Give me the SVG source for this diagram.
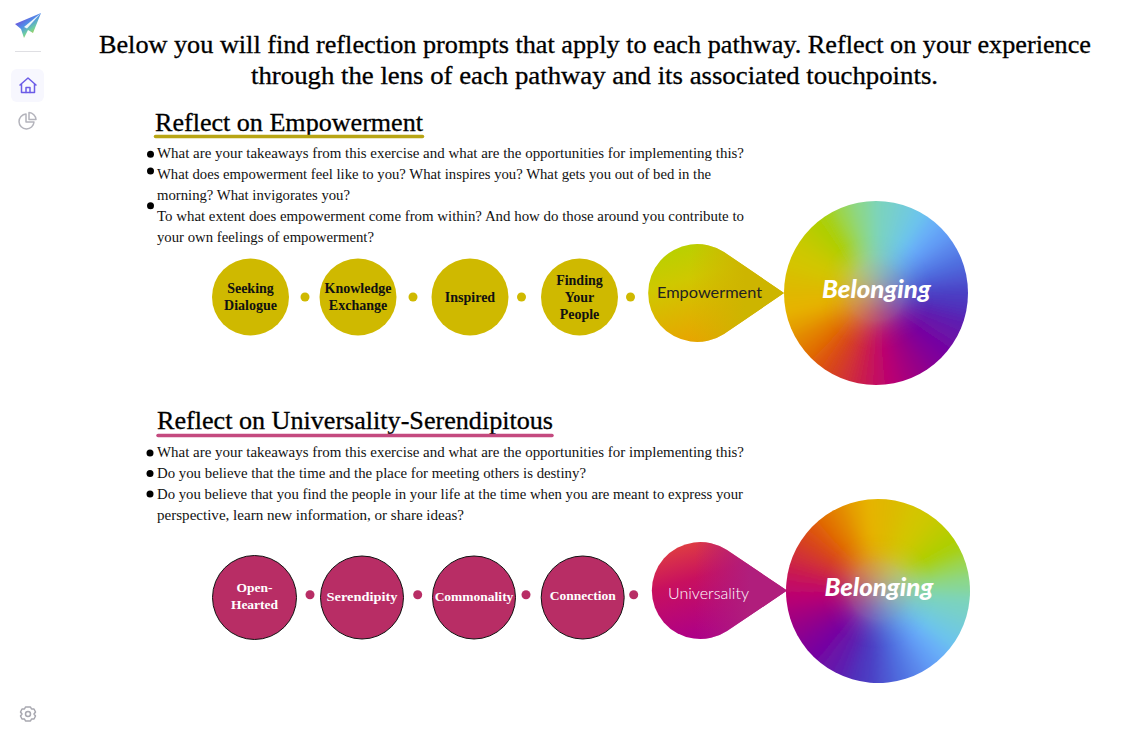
<svg xmlns="http://www.w3.org/2000/svg" width="1125" height="732" viewBox="0 0 1125 732">
<style>
text{font-family:"Liberation Serif","Times New Roman",serif;fill:#000}
.title{font-size:25px;stroke:#000;stroke-width:.3px}
.head{font-size:25px;stroke:#000;stroke-width:.3px}
.body{font-size:14px;fill:#111}
.nodeY{fill:#cfb900}
.nodeM{fill:#b82d65;stroke:#111;stroke-width:1}
.lblY{font-size:14px;font-weight:bold;text-anchor:middle;fill:#111}
.lblM{font-size:13.500px;font-weight:bold;text-anchor:middle;fill:#fff}
.dotY{fill:#cfb900}.dotM{fill:#b82d65}
.bel{font-family:"Lato","Liberation Sans",sans-serif;font-size:25px;font-weight:900;font-style:italic;fill:#fff}
.path{font-family:"Lato","Liberation Sans",sans-serif;font-size:16px}
.ico{fill:none;stroke-width:1.5;stroke-linejoin:round;stroke-linecap:round}
</style>
<defs>
<path id="w" d="M0 0L-13 -130L13 -130Z"/>
<clipPath id="cc"><circle r="92"/></clipPath>
<filter id="b" filterUnits="userSpaceOnUse" x="-140" y="-140" width="280" height="280"><feGaussianBlur stdDeviation="6"/></filter>
<filter id="b2" filterUnits="userSpaceOnUse" x="-140" y="-140" width="280" height="280"><feGaussianBlur stdDeviation="20"/></filter>
<radialGradient id="fade"><stop offset="0" stop-color="#fff"/><stop offset=".3" stop-color="#fff"/><stop offset=".62" stop-color="#000"/></radialGradient>
<mask id="m" maskUnits="userSpaceOnUse" x="-92" y="-92" width="184" height="184"><circle r="92" fill="url(#fade)"/></mask>
<g id="wedges">
<use href="#w" fill="#7dd4b8"/>
<use href="#w" transform="rotate(10)" fill="#78d0c8"/>
<use href="#w" transform="rotate(20)" fill="#72cbda"/>
<use href="#w" transform="rotate(30)" fill="#6cc4ec"/>
<use href="#w" transform="rotate(40)" fill="#69b0f8"/>
<use href="#w" transform="rotate(50)" fill="#629df6"/>
<use href="#w" transform="rotate(60)" fill="#5a86eb"/>
<use href="#w" transform="rotate(70)" fill="#5070e0"/>
<use href="#w" transform="rotate(80)" fill="#4e59d3"/>
<use href="#w" transform="rotate(90)" fill="#4b41c5"/>
<use href="#w" transform="rotate(100)" fill="#4f32bc"/>
<use href="#w" transform="rotate(110)" fill="#5d1fb0"/>
<use href="#w" transform="rotate(120)" fill="#6b12a8"/>
<use href="#w" transform="rotate(130)" fill="#7503a2"/>
<use href="#w" transform="rotate(140)" fill="#820098"/>
<use href="#w" transform="rotate(150)" fill="#93008a"/>
<use href="#w" transform="rotate(160)" fill="#a4007f"/>
<use href="#w" transform="rotate(170)" fill="#b80073"/>
<use href="#w" transform="rotate(180)" fill="#c30a63"/>
<use href="#w" transform="rotate(190)" fill="#ca1d4c"/>
<use href="#w" transform="rotate(200)" fill="#d13035"/>
<use href="#w" transform="rotate(210)" fill="#d7431e"/>
<use href="#w" transform="rotate(220)" fill="#de5707"/>
<use href="#w" transform="rotate(230)" fill="#e17100"/>
<use href="#w" transform="rotate(240)" fill="#e38700"/>
<use href="#w" transform="rotate(250)" fill="#e5a100"/>
<use href="#w" transform="rotate(260)" fill="#e6b400"/>
<use href="#w" transform="rotate(270)" fill="#e0b700"/>
<use href="#w" transform="rotate(280)" fill="#dabd00"/>
<use href="#w" transform="rotate(290)" fill="#d4c500"/>
<use href="#w" transform="rotate(300)" fill="#cdc800"/>
<use href="#w" transform="rotate(310)" fill="#c0cb00"/>
<use href="#w" transform="rotate(320)" fill="#b1ce00"/>
<use href="#w" transform="rotate(330)" fill="#a5d114"/>
<use href="#w" transform="rotate(340)" fill="#97d658"/>
<use href="#w" transform="rotate(350)" fill="#8ad78e"/>
</g>
<g id="wheel">
<g clip-path="url(#cc)">
<use href="#wedges" filter="url(#b)"/>
<g mask="url(#m)"><use href="#wedges" filter="url(#b2)"/></g>
</g>
</g>
<linearGradient id="dropY1" gradientUnits="userSpaceOnUse" x1="668" y1="250" x2="695" y2="342"><stop offset="0" stop-color="#b9d000"/><stop offset=".35" stop-color="#cfc800"/><stop offset="1" stop-color="#e8a400"/></linearGradient>
<linearGradient id="dropY2" gradientUnits="userSpaceOnUse" x1="690" y1="0" x2="745" y2="0"><stop offset="0" stop-color="#cdb500" stop-opacity="0"/><stop offset="1" stop-color="#cdb500"/></linearGradient>
<linearGradient id="dropM1" gradientUnits="userSpaceOnUse" x1="668" y1="546" x2="695" y2="639"><stop offset="0" stop-color="#e04040"/><stop offset=".4" stop-color="#c8105f"/><stop offset="1" stop-color="#ad0088"/></linearGradient>
<linearGradient id="dropM2" gradientUnits="userSpaceOnUse" x1="695" y1="0" x2="750" y2="0"><stop offset="0" stop-color="#b01e7c" stop-opacity="0"/><stop offset="1" stop-color="#b01e7c"/></linearGradient>
<linearGradient id="plane" gradientUnits="userSpaceOnUse" x1="18" y1="18" x2="32" y2="38"><stop offset="0" stop-color="#7a3fd8"/><stop offset=".4" stop-color="#4f8fe8"/><stop offset=".7" stop-color="#6fd0a0"/><stop offset="1" stop-color="#c8c820"/></linearGradient>
</defs>
<rect width="1125" height="732" fill="#fff"/>

<g id="sidebar">
<g id="logo">
<path d="M15 24L41 13L33 33L28 30L24 38L21 29Z" fill="url(#plane)"/>
<path d="M41 13L24 27L27 28.500Z" fill="#eef6fa"/>
</g>
<line x1="15" y1="51.500" x2="41" y2="51.500" stroke="#dfdfe3"/>
<rect x="11" y="69" width="33" height="33" rx="6" fill="#f7f7fe"/>
<g id="home" class="ico" stroke="#6c5ce7">
<path d="M20 85L28 78L36 85M21.500 84V92.500H34.500V84"/>
<path d="M26 92.500V87.500H30V92.500"/>
</g>
<g id="chart" class="ico" stroke="#b4b4bc">
<path d="M26 114A7.500 7.500 0 1 0 34 122H26Z"/>
<path d="M29 112.500A7.500 7.500 0 0 1 36 119.500H29Z"/>
</g>
<g id="gear" class="ico" stroke="#a8a8b0">
<circle cx="28" cy="714" r="2.500"/>
<path d="M25.500 707H30.500L31.500 709L34 709L35.500 712L34 714L35.500 716L34 719L31.500 719L30.500 721H25.500L24.500 719L22 719L20.500 716L22 714L20.500 712L22 709L24.500 709Z"/>
</g>
</g>

<g id="intro">
<text class="title" x="99" y="53" textLength="992" lengthAdjust="spacingAndGlyphs">Below you will find reflection prompts that apply to each pathway. Reflect on your experience</text>
<text class="title" x="251" y="84" textLength="687" lengthAdjust="spacingAndGlyphs">through the lens of each pathway and its associated touchpoints.</text>
</g>

<g id="empowerment-text">
<text class="head" x="155" y="131" textLength="268" lengthAdjust="spacingAndGlyphs">Reflect on Empowerment</text>
<line x1="155.500" y1="136.500" x2="422.500" y2="136.500" stroke="#b8a514" stroke-width="3.500" stroke-linecap="round"/>
<circle cx="150.500" cy="154.300" r="3.500"/><circle cx="150.500" cy="171" r="3.500"/><circle cx="150.500" cy="205.700" r="3.500"/>
<text class="body" x="157" y="158" textLength="587" lengthAdjust="spacingAndGlyphs">What are your takeaways from this exercise and what are the opportunities for implementing this?</text>
<text class="body" x="157" y="179" textLength="554" lengthAdjust="spacingAndGlyphs">What does empowerment feel like to you? What inspires you? What gets you out of bed in the</text>
<text class="body" x="157" y="200" textLength="193" lengthAdjust="spacingAndGlyphs">morning? What invigorates you?</text>
<text class="body" x="157" y="221" textLength="587" lengthAdjust="spacingAndGlyphs">To what extent does empowerment come from within? And how do those around you contribute to</text>
<text class="body" x="157" y="242" textLength="217" lengthAdjust="spacingAndGlyphs">your own feelings of empowerment?</text>
</g>

<g id="connectors">
<circle class="dotY" cx="305" cy="297" r="4.500"/><circle class="dotY" cx="413" cy="297" r="4.500"/><circle class="dotY" cx="521.500" cy="297" r="4.500"/><circle class="dotY" cx="630.500" cy="297" r="4.500"/>
<circle class="dotM" cx="310" cy="594.700" r="4.500"/><circle class="dotM" cx="417.700" cy="594.700" r="4.500"/><circle class="dotM" cx="526" cy="594.700" r="4.500"/><circle class="dotM" cx="633.700" cy="594.700" r="4.500"/>
</g>

<g id="seeking-dialogue"><circle class="nodeY" cx="250.500" cy="297" r="38.500"/><text class="lblY" x="250.500" y="293">Seeking</text><text class="lblY" x="250.500" y="310">Dialogue</text></g>
<g id="knowledge-exchange"><circle class="nodeY" cx="358" cy="297" r="38.500"/><text class="lblY" x="358" y="293">Knowledge</text><text class="lblY" x="358" y="310">Exchange</text></g>
<g id="inspired"><circle class="nodeY" cx="470" cy="297" r="38.500"/><text class="lblY" x="470" y="302">Inspired</text></g>
<g id="finding-your-people"><circle class="nodeY" cx="579.500" cy="297" r="38.500"/><text class="lblY" x="579.500" y="285">Finding</text><text class="lblY" x="579.500" y="302">Your</text><text class="lblY" x="579.500" y="319">People</text></g>

<g id="empowerment">
<path d="M784 293L724 334A49 49 0 1 1 724 252Z" fill="url(#dropY1)"/>
<path d="M784 293L724 334A49 49 0 1 1 724 252Z" fill="url(#dropY2)"/>
<text class="path" x="657" y="298" textLength="105" lengthAdjust="spacingAndGlyphs" style="fill:#222">Empowerment</text>
</g>
<g id="belonging-1">
<use href="#wheel" transform="translate(876 293)"/>
<text class="bel" x="822" y="298" textLength="109" lengthAdjust="spacingAndGlyphs">Belonging</text>
</g>

<g id="universality-text">
<text class="head" x="157" y="429" textLength="396" lengthAdjust="spacingAndGlyphs">Reflect on Universality-Serendipitous</text>
<line x1="158" y1="435.500" x2="552" y2="435.500" stroke="#c44a7f" stroke-width="3.500" stroke-linecap="round"/>
<circle cx="150" cy="453" r="3.500"/><circle cx="150" cy="473.500" r="3.500"/><circle cx="150" cy="494" r="3.500"/>
<text class="body" x="157" y="456.500" textLength="587" lengthAdjust="spacingAndGlyphs">What are your takeaways from this exercise and what are the opportunities for implementing this?</text>
<text class="body" x="157" y="477.500" textLength="429" lengthAdjust="spacingAndGlyphs">Do you believe that the time and the place for meeting others is destiny?</text>
<text class="body" x="157" y="498.500" textLength="586" lengthAdjust="spacingAndGlyphs">Do you believe that you find the people in your life at the time when you are meant to express your</text>
<text class="body" x="157" y="519.500" textLength="307" lengthAdjust="spacingAndGlyphs">perspective, learn new information, or share ideas?</text>
</g>

<g id="open-hearted"><circle class="nodeM" cx="254.500" cy="597.500" r="42"/><text class="lblM" x="254.500" y="592">Open-</text><text class="lblM" x="254.500" y="609">Hearted</text></g>
<g id="serendipity"><circle class="nodeM" cx="362" cy="597.500" r="41.500"/><text class="lblM" x="362" y="601" textLength="71" lengthAdjust="spacingAndGlyphs">Serendipity</text></g>
<g id="commonality"><circle class="nodeM" cx="474" cy="597.500" r="41.500"/><text class="lblM" x="474" y="601">Commonality</text></g>
<g id="connection"><circle class="nodeM" cx="582.700" cy="597.500" r="41.500"/><text class="lblM" x="582.700" y="600">Connection</text></g>

<g id="universality">
<path d="M787 590.500L727 631A48.500 48.500 0 1 1 727 550Z" fill="url(#dropM1)"/>
<path d="M787 590.500L727 631A48.500 48.500 0 1 1 727 550Z" fill="url(#dropM2)"/>
<text class="path" x="668" y="599" textLength="81" lengthAdjust="spacingAndGlyphs" style="fill:#fff;font-weight:300">Universality</text>
</g>
<g id="belonging-2">
<use href="#wheel" transform="translate(878 591) rotate(95)"/>
<text class="bel" x="824.500" y="596" textLength="109" lengthAdjust="spacingAndGlyphs">Belonging</text>
</g>
</svg>
